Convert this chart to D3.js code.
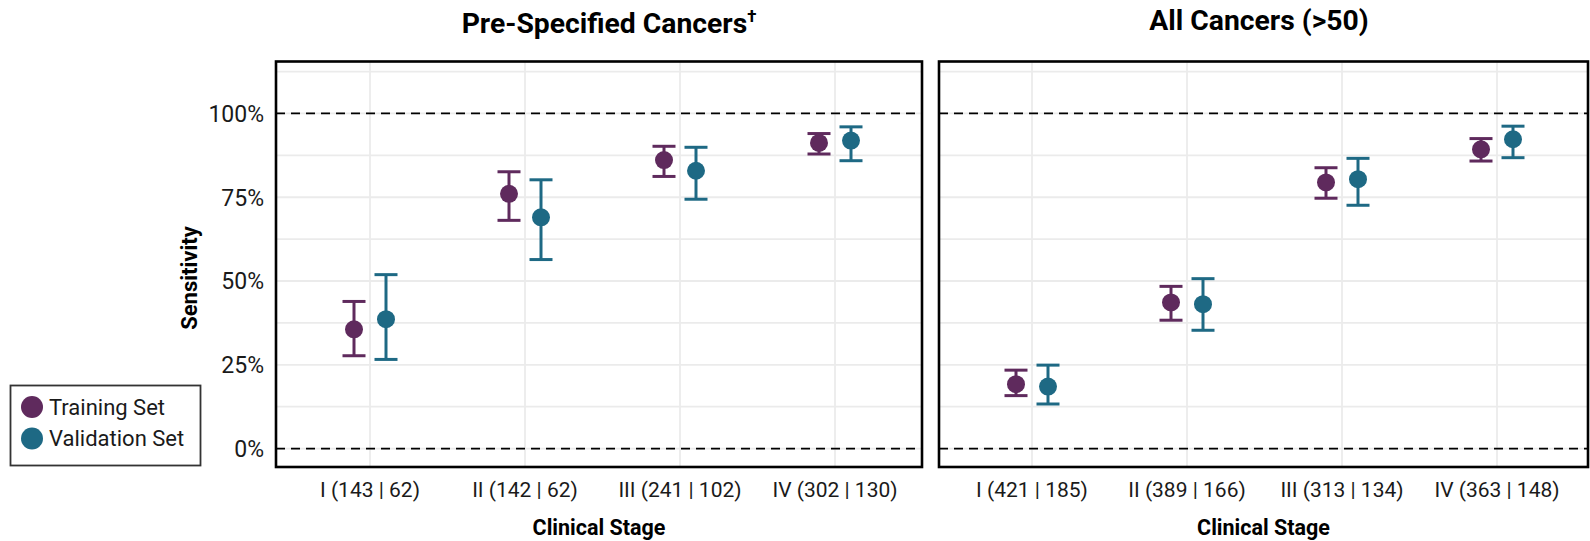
<!DOCTYPE html>
<html>
<head>
<meta charset="utf-8">
<script src="https://cdn.jsdelivr.net/npm/d3@7"></script>
<style>
  body { margin: 0; background: #fff; }
  svg { display: block; font-family: Roboto, "Noto Sans", "DejaVu Sans", sans-serif; }
</style>
</head>
<body>
<svg id="chart" width="1590" height="541"></svg>
<script>
// ---- data -------------------------------------------------------------
const panelTitles = ["Pre-Specified Cancers", "All Cancers (>50)"];
const stagesPre = ["I (143 | 62)", "II (142 | 62)", "III (241 | 102)", "IV (302 | 130)"];
const stagesAll = ["I (421 | 185)", "II (389 | 166)", "III (313 | 134)", "IV (363 | 148)"];
const seriesNames = ["Training Set", "Validation Set"];
const seriesColors = ["#5f2a5d", "#1e6984"];

// Pre-specified cancers: sensitivity with 95% CI
const preTraining      = [0.356, 0.760, 0.861, 0.912];
const preTrainingLow   = [0.277, 0.681, 0.812, 0.879];
const preTrainingHigh  = [0.439, 0.826, 0.902, 0.940];
const preValidation     = [0.386, 0.690, 0.829, 0.919];
const preValidationLow  = [0.266, 0.564, 0.744, 0.859];
const preValidationHigh = [0.519, 0.802, 0.899, 0.960];

// All cancers (>50): sensitivity with 95% CI
const allTraining      = [0.192, 0.436, 0.794, 0.893];
const allTrainingLow   = [0.158, 0.383, 0.747, 0.858];
const allTrainingHigh  = [0.234, 0.484, 0.838, 0.925];
const allValidation     = [0.185, 0.431, 0.804, 0.923];
const allValidationLow  = [0.133, 0.353, 0.726, 0.868];
const allValidationHigh = [0.249, 0.507, 0.866, 0.962];

const yTicks = [0, 0.25, 0.5, 0.75, 1];
const yGrid = [0, 0.125, 0.25, 0.375, 0.5, 0.625, 0.75, 0.875, 1, 1.125];
const refLines = [0, 1];

// ---- layout -----------------------------------------------------------
const svg = d3.select("#chart");
const plotTop = 61.5, plotBottom = 467;
const y = d3.scaleLinear().domain([-0.055, 1.155]).range([plotBottom, plotTop]);
const dodge = 16;

function rows(stages, series) {
  return stages.map((s, i) => series.map((ser, k) => ({
    stage: s, k, v: ser[0][i], lo: ser[1][i], hi: ser[2][i]
  }))).flat();
}

const panels = [
  { title: panelTitles[0], dagger: true, stages: stagesPre, x0: 276, x1: 922, cx: [370, 835], titleX: 609, titleY: 32.5,
    data: rows(stagesPre, [[preTraining, preTrainingLow, preTrainingHigh], [preValidation, preValidationLow, preValidationHigh]]) },
  { title: panelTitles[1], dagger: false, stages: stagesAll, x0: 939, x1: 1588, cx: [1032, 1497], titleX: 1259, titleY: 30,
    data: rows(stagesAll, [[allTraining, allTrainingLow, allTrainingHigh], [allValidation, allValidationLow, allValidationHigh]]) }
];

panels.forEach((p, pi) => {
  const x = d3.scalePoint().domain(p.stages).range(p.cx);
  const g = svg.append("g");

  // panel background grid
  g.selectAll("line.hgrid").data(yGrid).join("line")
    .attr("x1", p.x0).attr("x2", p.x1)
    .attr("y1", d => y(d)).attr("y2", d => y(d))
    .attr("stroke", "#ebebeb").attr("stroke-width", 1.8);
  g.selectAll("line.vgrid").data(p.stages).join("line")
    .attr("x1", d => x(d)).attr("x2", d => x(d))
    .attr("y1", plotTop).attr("y2", plotBottom)
    .attr("stroke", "#ebebeb").attr("stroke-width", 1.8);

  // reference lines at 0% and 100%
  g.selectAll("line.ref").data(refLines).join("line")
    .attr("x1", p.x0).attr("x2", p.x1)
    .attr("y1", d => y(d)).attr("y2", d => y(d))
    .attr("stroke", "#000").attr("stroke-width", 1.8).attr("stroke-dasharray", "9,6");

  // error bars
  const eb = g.selectAll("g.eb").data(p.data).join("g")
    .attr("transform", d => `translate(${x(d.stage) + (d.k === 0 ? -dodge : dodge)},0)`)
    .attr("stroke", d => seriesColors[d.k]).attr("stroke-width", 3);
  eb.append("line").attr("x1", 0).attr("x2", 0).attr("y1", d => y(d.lo)).attr("y2", d => y(d.hi));
  eb.append("line").attr("x1", -11.5).attr("x2", 11.5).attr("y1", d => y(d.lo)).attr("y2", d => y(d.lo));
  eb.append("line").attr("x1", -11.5).attr("x2", 11.5).attr("y1", d => y(d.hi)).attr("y2", d => y(d.hi));

  // points
  g.selectAll("circle.pt").data(p.data).join("circle")
    .attr("cx", d => x(d.stage) + (d.k === 0 ? -dodge : dodge))
    .attr("cy", d => y(d.v))
    .attr("r", 9)
    .attr("fill", d => seriesColors[d.k]);

  // panel border
  g.append("rect")
    .attr("x", p.x0).attr("y", plotTop)
    .attr("width", p.x1 - p.x0).attr("height", plotBottom - plotTop)
    .attr("fill", "none").attr("stroke", "#000").attr("stroke-width", 2.6);

  // x axis labels
  g.selectAll("text.xt").data(p.stages).join("text")
    .attr("x", d => x(d)).attr("y", 497)
    .attr("text-anchor", "middle")
    .attr("font-size", 21).attr("fill", "#1a1a1a")
    .text(d => d);

  g.append("text")
    .attr("x", (p.x0 + p.x1) / 2).attr("y", 535)
    .attr("text-anchor", "middle")
    .attr("font-size", 21.5).attr("font-weight", "bold")
    .text("Clinical Stage");

  // panel title
  const t = g.append("text")
    .attr("x", p.titleX).attr("y", p.titleY)
    .attr("text-anchor", "middle")
    .attr("font-size", 28.3).attr("font-weight", "bold")
    .text(p.title);
  if (p.dagger) {
    t.append("tspan").attr("font-size", 17).attr("dy", -11).text("\u2020");
  }

  // y axis labels only on the first panel
  if (pi === 0) {
    g.selectAll("text.yt").data(yTicks).join("text")
      .attr("x", 264).attr("y", d => y(d))
      .attr("dy", "0.36em")
      .attr("text-anchor", "end")
      .attr("font-size", 23).attr("fill", "#1a1a1a")
      .text(d => d3.format(".0%")(d));
    g.append("text")
      .attr("transform", "translate(197,278) rotate(-90)")
      .attr("text-anchor", "middle")
      .attr("font-size", 22).attr("font-weight", "bold")
      .text("Sensitivity");
  }
});

// legend
const lg = svg.append("g");
lg.append("rect").attr("x", 10.5).attr("y", 385.5).attr("width", 190).attr("height", 80)
  .attr("fill", "#fff").attr("stroke", "#333").attr("stroke-width", 1.8);
const li = lg.selectAll("g.item").data(seriesNames).join("g")
  .attr("transform", (d, i) => `translate(0,${407 + i * 31.5})`);
li.append("circle").attr("cx", 32).attr("cy", 0).attr("r", 11).attr("fill", (d, i) => seriesColors[i]);
li.append("text").attr("x", 49).attr("y", 0).attr("dy", "0.36em")
  .attr("font-size", 22).attr("fill", "#1a1a1a").text(d => d);
</script>
</body>
</html>
